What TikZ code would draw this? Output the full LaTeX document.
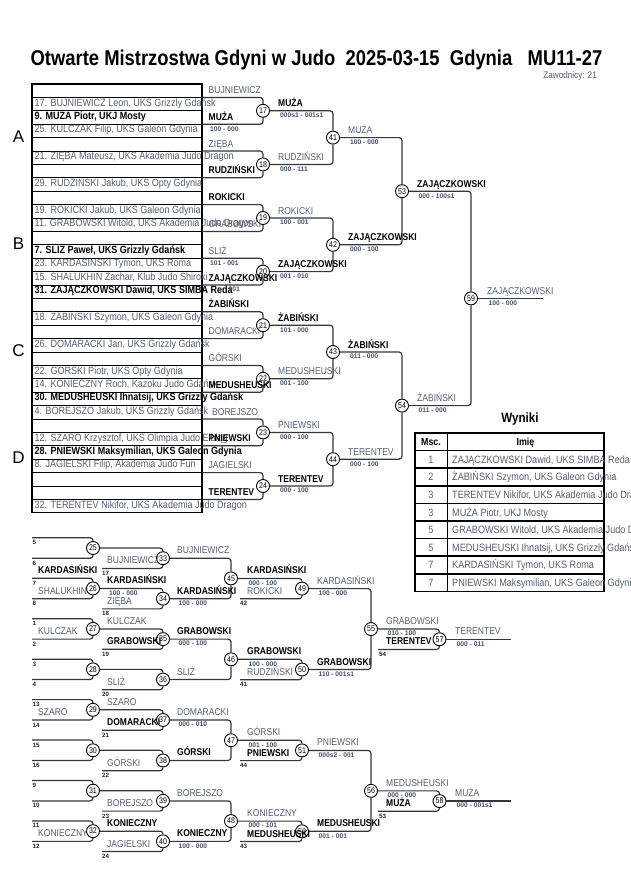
\documentclass[tikz,border=0pt]{standalone}
\usepackage{fontspec}
\setmainfont{Liberation Sans}[FakeStretch=0.86]
\newfontfamily\plainsf{Liberation Sans}
\definecolor{ngray}{RGB}{88,94,112}
\definecolor{scol}{RGB}{70,80,105}
\definecolor{lcol}{RGB}{55,55,55}
\tikzset{
  nm/.style={inner sep=0pt, anchor=base west, text=ngray, font=\fontsize{9.9}{11}\selectfont},
  nb/.style={inner sep=0pt, anchor=base west, text=black, font=\bfseries\fontsize{9.9}{11}\selectfont},
  sc/.style={inner sep=0pt, anchor=base west, text=scol, font=\plainsf\bfseries\fontsize{6.7}{7}\selectfont},
  sn/.style={inner sep=0pt, anchor=base west, text=black!85, font=\plainsf\bfseries\fontsize{6.2}{7}\selectfont},
  rg/.style={inner sep=0pt, anchor=base west, text=ngray, font=\fontsize{10.5}{11}\selectfont},
  rb/.style={inner sep=0pt, anchor=base west, text=black, font=\bfseries\fontsize{10.5}{11}\selectfont},
  wg/.style={inner sep=0pt, anchor=base west, text=ngray, font=\fontsize{10.6}{11}\selectfont},
  wn/.style={inner sep=0pt, anchor=base, text=ngray, font=\fontsize{10.6}{11}\selectfont},
  wh/.style={inner sep=0pt, anchor=base, text=black, font=\bfseries\fontsize{10.3}{11}\selectfont},
  mc/.style={circle, draw=black, line width=0.9pt, fill=white, minimum size=13pt, inner sep=0pt, font=\fontsize{8.2}{8}\selectfont},
  br/.style={draw=lcol, line width=1.2pt, rounded corners=3pt},
  tl/.style={draw=black, line width=1pt},
  tb/.style={draw=black, line width=1.3pt},
  grp/.style={inner sep=0pt, font=\plainsf\fontsize{17}{18}\selectfont, text=black}
}
\newcommand\Lg[4]{\node[nm] (#1) at (#2,#3) {#4};}
\newcommand\Lb[4]{\node[nb] (#1) at (#2,#3) {#4};}
\newcommand\Ls[4]{\node[sc] (#1) at (#2,#3) {#4};}
\newcommand\Ln[4]{\node[sn] (#1) at (#2,#3) {#4};}
\begin{document}
\begin{tikzpicture}[x=1pt,y=-1pt]
\useasboundingbox[fill=white] (0,0) rectangle (630,891);

% title
\node[font=\bfseries\fontsize{21.4}{24}\selectfont, anchor=base, inner sep=0pt] (title) at (316.5,66) {Otwarte Mistrzostwa Gdyni w Judo\ \ 2025-03-15\ \ Gdynia\ \ \ MU11-27};
\node[anchor=base east, inner sep=0pt, text=ngray, font=\fontsize{9.5}{10}\selectfont] (zaw) at (597,78.5) {Zawodnicy: 21};

% group letters
\node[grp] (gA) at (18.5,136.5) {A};
\node[grp] (gB) at (18.5,243.5) {B};
\node[grp] (gC) at (18.5,350.5) {C};
\node[grp] (gD) at (18.5,457.7) {D};

% main table
\foreach \n in {1,...,31} \draw[tl] (32,{84+13.4*\n}) -- (202,{84+13.4*\n});
\draw[tb] (32,84) rectangle (202,512.8);

\node[rg] (r2) at (34.5,106.0) {17. BUJNIEWICZ Leon, UKS Grizzly Gdańsk};
\node[rb] (r3) at (34.5,119.4) {9. MUZA Piotr, UKJ Mosty};
\node[rg] (r4) at (34.5,132.8) {25. KULCZAK Filip, UKS Galeon Gdynia};
\node[rg] (r6) at (34.5,159.6) {21. ZIĘBA Mateusz, UKS Akademia Judo Dragon};
\node[rg] (r8) at (34.5,186.4) {29. RUDZINSKI Jakub, UKS Opty Gdynia};
\node[rg] (r10) at (34.5,213.2) {19. ROKICKI Jakub, UKS Galeon Gdynia};
\node[rg] (r11) at (34.5,226.6) {11. GRABOWSKI Witold, UKS Akademia Judo Dragon};
\node[rb] (r13) at (34.5,253.4) {7. SLIZ Paweł, UKS Grizzly Gdańsk};
\node[rg] (r14) at (34.5,266.8) {23. KARDASINSKI Tymon, UKS Roma};
\node[rg] (r15) at (34.5,280.2) {15. SHALUKHIN Zachar, Klub Judo Shiroki};
\node[rb] (r16) at (34.5,293.6) {31. ZAJĄCZKOWSKI Dawid, UKS SIMBA Reda};
\node[rg] (r18) at (34.5,320.4) {18. ŻABIŃSKI Szymon, UKS Galeon Gdynia};
\node[rg] (r20) at (34.5,347.2) {26. DOMARACKI Jan, UKS Grizzly Gdańsk};
\node[rg] (r22) at (34.5,374.0) {22. GÓRSKI Piotr, UKS Opty Gdynia};
\node[rg] (r23) at (34.5,387.4) {14. KONIECZNY Roch, Kazoku Judo Gdańsk};
\node[rb] (r24) at (34.5,400.8) {30. MEDUSHEUSKI Ihnatsij, UKS Grizzly Gdańsk};
\node[rg] (r25) at (34.5,414.2) {4. BOREJSZO Jakub, UKS Grizzly Gdańsk};
\node[rg] (r27) at (34.5,441.0) {12. SZARO Krzysztof, UKS Olimpia Judo Elbląg};
\node[rb] (r28) at (34.5,454.4) {28. PNIEWSKI Maksymilian, UKS Galeon Gdynia};
\node[rg] (r29) at (34.5,467.8) {8. JAGIELSKI Filip, Akademia Judo Fun};
\node[rg] (r32) at (34.5,508.0) {32. TERENTEV Nikifor, UKS Akademia Judo Dragon};

% main bracket circles
\node[mc] (m17) at (263,110.8) {17};
\node[mc] (m18) at (263,164.4) {18};
\node[mc] (m19) at (263,218.0) {19};
\node[mc] (m20) at (263,271.6) {20};
\node[mc] (m21) at (263,325.2) {21};
\node[mc] (m22) at (263,378.8) {22};
\node[mc] (m23) at (263,432.4) {23};
\node[mc] (m24) at (263,486.0) {24};
\node[mc] (m41) at (333,137.6) {41};
\node[mc] (m42) at (333,244.8) {42};
\node[mc] (m43) at (333,352.0) {43};
\node[mc] (m44) at (333,459.2) {44};
\node[mc] (m53) at (402,191.2) {53};
\node[mc] (m54) at (402,405.6) {54};
\node[mc] (m59) at (471,298.4) {59};

\coordinate (t17) at (202,97.4);  \coordinate (u17) at (202,124.2);
\coordinate (t18) at (202,151.0); \coordinate (u18) at (202,177.8);
\coordinate (t19) at (202,204.6); \coordinate (u19) at (202,231.4);
\coordinate (t20) at (202,258.2); \coordinate (u20) at (202,285.0);
\coordinate (t21) at (202,311.8); \coordinate (u21) at (202,338.6);
\coordinate (t22) at (202,365.4); \coordinate (u22) at (202,392.2);
\coordinate (t23) at (202,419.0); \coordinate (u23) at (202,445.8);
\coordinate (t24) at (202,472.6); \coordinate (u24) at (202,499.4);
\coordinate (e59) at (543,298.4);

\foreach \m in {17,...,24} {
  \draw[br] (t\m) -| (m\m.north);
  \draw[br] (u\m) -| (m\m.south);
}
\draw[br] (m17.east) -| (m41.north); \draw[br] (m18.east) -| (m41.south);
\draw[br] (m19.east) -| (m42.north); \draw[br] (m20.east) -| (m42.south);
\draw[br] (m21.east) -| (m43.north); \draw[br] (m22.east) -| (m43.south);
\draw[br] (m23.east) -| (m44.north); \draw[br] (m24.east) -| (m44.south);
\draw[br] (m41.east) -| (m53.north); \draw[br] (m42.east) -| (m53.south);
\draw[br] (m43.east) -| (m54.north); \draw[br] (m44.east) -| (m54.south);
\draw[br] (m53.east) -| (m59.north); \draw[br] (m54.east) -| (m59.south);
\draw[br] (m59.east) -- (e59);

% main bracket labels, round 1
\Lg{a17}{208.5}{93.4}{BUJNIEWICZ}   \Lb{b17}{208.5}{120.2}{MUŻA} \Ls{c17}{210}{131.0}{100 - 000}
\Lg{a18}{208.5}{147.0}{ZIĘBA}       \Lb{b18}{208.5}{173.8}{RUDZIŃSKI}
\Lb{a19}{208.5}{200.6}{ROKICKI}     \Lg{b19}{208.5}{227.4}{GRABOWSKI}
\Lg{a20}{208.5}{254.2}{SLIŻ}        \Ls{d20}{210}{265.0}{101 - 001}
\Lb{b20}{208.5}{281.0}{ZAJĄCZKOWSKI} \Ls{c20}{228.5}{291.8}{001}
\Lb{a21}{208.5}{307.8}{ŻABIŃSKI}    \Lg{b21}{208.5}{334.6}{DOMARACKI}
\Lg{a22}{208.5}{361.4}{GÓRSKI}      \Lb{b22}{208.5}{388.2}{MEDUSHEUSKI}
\Lg{a23}{212}{415.0}{BOREJSZO}      \Lb{b23}{208.5}{441.8}{PNIEWSKI}
\Lg{a24}{208.5}{468.6}{JAGIELSKI}   \Lb{b24}{208.5}{495.4}{TERENTEV}

% outputs round 1
\Lb{o17}{278}{106.8}{MUŻA}          \Ls{s17}{280}{117.6}{000s1 - 001s1}
\Lg{o18}{278}{160.4}{RUDZIŃSKI}     \Ls{s18}{280}{171.2}{000 - 111}
\Lg{o19}{278}{214.0}{ROKICKI}       \Ls{s19}{280}{224.8}{100 - 001}
\Lb{o20}{278}{267.6}{ZAJĄCZKOWSKI}  \Ls{s20}{280}{278.4}{001 - 010}
\Lb{o21}{278}{321.2}{ŻABIŃSKI}      \Ls{s21}{280}{332.0}{101 - 000}
\Lg{o22}{278}{374.8}{MEDUSHEUSKI}   \Ls{s22}{280}{385.6}{001 - 100}
\Lg{o23}{278}{428.4}{PNIEWSKI}      \Ls{s23}{280}{439.2}{000 - 100}
\Lb{o24}{278}{482.0}{TERENTEV}      \Ls{s24}{280}{492.8}{000 - 100}
% outputs round 2
\Lg{o41}{348}{133.6}{MUŻA}          \Ls{s41}{350}{144.4}{100 - 000}
\Lb{o42}{348}{240.8}{ZAJĄCZKOWSKI}  \Ls{s42}{350}{251.6}{000 - 100}
\Lb{o43}{348}{348.0}{ŻABIŃSKI}      \Ls{s43}{350}{358.8}{011 - 000}
\Lg{o44}{348}{455.2}{TERENTEV}      \Ls{s44}{350}{466.0}{000 - 100}
% outputs round 3 and final
\Lb{o53}{417}{187.2}{ZAJĄCZKOWSKI}  \Ls{s53}{418.5}{198.0}{000 - 100s1}
\Lg{o54}{417}{401.6}{ŻABIŃSKI}      \Ls{s54}{418.5}{412.4}{011 - 000}
\Lg{o59}{487}{294.4}{ZAJĄCZKOWSKI}  \Ls{s59}{488.5}{305.2}{100 - 000}

% results table
\node[inner sep=0pt, anchor=base, font=\bfseries\fontsize{13.5}{14}\selectfont] (wyn) at (520,422.6) {Wyniki};
\foreach \i in {1,...,8} \draw[draw=black, line width=1.5pt] (415,{433+17.6*\i}) -- (604,{433+17.6*\i});
\draw[draw=black, line width=1pt] (447,433) -- (447,591.4);
\draw[draw=black, line width=1.6pt] (415,433) rectangle (604,591.4);
\node[wh] (hm) at (431,445.6) {Msc.};
\node[wh] (hi) at (525.5,445.6) {Imię};
\node[wn] (n1) at (431,463.2) {1}; \node[wg] (w1) at (452,463.2) {ZAJĄCZKOWSKI Dawid, UKS SIMBA Reda};
\node[wn] (n2) at (431,480.8) {2}; \node[wg] (w2) at (452,480.8) {ŻABIŃSKI Szymon, UKS Galeon Gdynia};
\node[wn] (n3) at (431,498.4) {3}; \node[wg] (w3) at (452,498.4) {TERENTEV Nikifor, UKS Akademia Judo Dragon};
\node[wn] (n4) at (431,516.0) {3}; \node[wg] (w4) at (452,516.0) {MUŻA Piotr, UKJ Mosty};
\node[wn] (n5) at (431,533.6) {5}; \node[wg] (w5) at (452,533.6) {GRABOWSKI Witold, UKS Akademia Judo Dragon};
\node[wn] (n6) at (431,551.2) {5}; \node[wg] (w6) at (452,551.2) {MEDUSHEUSKI Ihnatsij, UKS Grizzly Gdańsk};
\node[wn] (n7) at (431,568.8) {7}; \node[wg] (w7) at (452,568.8) {KARDASIŃSKI Tymon, UKS Roma};
\node[wn] (n8) at (431,586.4) {7}; \node[wg] (w8) at (452,586.4) {PNIEWSKI Maksymilian, UKS Galeon Gdynia};

% repechage circles
\node[mc] (m25) at (93,548.0) {25};
\node[mc] (m26) at (93,588.45) {26};
\node[mc] (m27) at (93,628.9) {27};
\node[mc] (m28) at (93,669.35) {28};
\node[mc] (m29) at (93,709.8) {29};
\node[mc] (m30) at (93,750.25) {30};
\node[mc] (m31) at (93,790.7) {31};
\node[mc] (m32) at (93,831.15) {32};
\node[mc] (m33) at (163,558.2) {33};
\node[mc] (m34) at (163,598.65) {34};
\node[mc] (m35) at (163,639.1) {35};
\node[mc] (m36) at (163,679.55) {36};
\node[mc] (m37) at (163,720.0) {37};
\node[mc] (m38) at (163,760.45) {38};
\node[mc] (m39) at (163,800.9) {39};
\node[mc] (m40) at (163,841.35) {40};
\node[mc] (m45) at (231,578.4) {45};
\node[mc] (m46) at (231,659.3) {46};
\node[mc] (m47) at (231,740.2) {47};
\node[mc] (m48) at (231,821.1) {48};
\node[mc] (m49) at (302,588.6) {49};
\node[mc] (m50) at (302,669.5) {50};
\node[mc] (m51) at (302,750.4) {51};
\node[mc] (m52) at (302,831.3) {52};
\node[mc] (m55) at (371,629.05) {55};
\node[mc] (m56) at (371,790.85) {56};
\node[mc] (m57) at (439.5,639.25) {57};
\node[mc] (m58) at (439.5,801.05) {58};

\coordinate (p25) at (32,537.8);  \coordinate (q25) at (32,558.2);
\coordinate (p26) at (32,578.25); \coordinate (q26) at (32,598.65);
\coordinate (p27) at (32,618.7);  \coordinate (q27) at (32,639.1);
\coordinate (p28) at (32,659.15); \coordinate (q28) at (32,679.55);
\coordinate (p29) at (32,699.6);  \coordinate (q29) at (32,720.0);
\coordinate (p30) at (32,740.05); \coordinate (q30) at (32,760.45);
\coordinate (p31) at (32,780.5);  \coordinate (q31) at (32,800.9);
\coordinate (p32) at (32,820.95); \coordinate (q32) at (32,841.35);
\coordinate (s33) at (102,568.4);  \coordinate (s34) at (102,608.85);
\coordinate (s35) at (102,649.3);  \coordinate (s36) at (102,689.75);
\coordinate (s37) at (102,730.2);  \coordinate (s38) at (102,770.65);
\coordinate (s39) at (102,811.1);  \coordinate (s40) at (102,851.55);
\coordinate (v49) at (240,598.8); \coordinate (v50) at (240,679.7);
\coordinate (v51) at (240,760.6); \coordinate (v52) at (240,841.5);
\coordinate (w57) at (378,649.45); \coordinate (w58) at (378,811.25);
\coordinate (e57) at (511,639.25); \coordinate (e58) at (511,801.05);

\foreach \m in {25,...,32} {
  \draw[br] (p\m) -| (m\m.north);
  \draw[br] (q\m) -| (m\m.south);
}
\foreach \a/\b in {25/33,26/34,27/35,28/36,29/37,30/38,31/39,32/40} {
  \draw[br] (m\a.east) -| (m\b.north);
  \draw[br] (s\b) -| (m\b.south);
}
\draw[br] (m33.east) -| (m45.north); \draw[br] (m34.east) -| (m45.south);
\draw[br] (m35.east) -| (m46.north); \draw[br] (m36.east) -| (m46.south);
\draw[br] (m37.east) -| (m47.north); \draw[br] (m38.east) -| (m47.south);
\draw[br] (m39.east) -| (m48.north); \draw[br] (m40.east) -| (m48.south);
\foreach \a/\b in {45/49,46/50,47/51,48/52} {
  \draw[br] (m\a.east) -| (m\b.north);
  \draw[br] (v\b) -| (m\b.south);
}
\draw[br] (m49.east) -| (m55.north); \draw[br] (m50.east) -| (m55.south);
\draw[br] (m51.east) -| (m56.north); \draw[br] (m52.east) -| (m56.south);
\draw[br] (m55.east) -| (m57.north); \draw[br] (w57) -| (m57.south);
\draw[br] (m56.east) -| (m58.north); \draw[br] (w58) -| (m58.south);
\draw[br] (m57.east) -- (e57);
\draw[br] (m58.east) -- (e58);

% seed numbers
\Ln{k5}{32.5}{544.8}{5}   \Ln{k6}{32.5}{565.2}{6}
\Ln{k7}{32.5}{585.25}{7}  \Ln{k8}{32.5}{605.65}{8}
\Ln{k1}{32.5}{625.7}{1}   \Ln{k2}{32.5}{646.1}{2}
\Ln{k3}{32.5}{666.15}{3}  \Ln{k4}{32.5}{686.55}{4}
\Ln{k13}{32.5}{706.6}{13} \Ln{k14}{32.5}{727.0}{14}
\Ln{k15}{32.5}{747.05}{15} \Ln{k16}{32.5}{767.45}{16}
\Ln{k9}{32.5}{787.5}{9}   \Ln{k10}{32.5}{807.9}{10}
\Ln{k11}{32.5}{827.95}{11} \Ln{k12}{32.5}{848.35}{12}
\Ln{k17}{102}{575.4}{17}  \Ln{k18}{102}{615.85}{18}
\Ln{k19}{102}{656.3}{19}  \Ln{k20}{102}{696.75}{20}
\Ln{k21}{102}{737.2}{21}  \Ln{k22}{102}{777.65}{22}
\Ln{k23}{102}{818.1}{23}  \Ln{k24}{102}{858.55}{24}
\Ln{k42}{240}{605.8}{42}  \Ln{k41}{240}{686.7}{41}
\Ln{k44}{240}{767.6}{44}  \Ln{k43}{240}{848.5}{43}
\Ln{k54}{379}{656.45}{54} \Ln{k53}{379}{818.25}{53}

% repechage labels level 1
\Lb{x26a}{38}{573.75}{KARDASIŃSKI} \Lg{x26b}{38}{594.15}{SHALUKHIN}
\Lg{x27b}{38}{634.6}{KULCZAK}
\Lg{x29b}{38}{715.5}{SZARO}
\Lg{x32b}{38}{836.85}{KONIECZNY}
% level 2
\Lg{x33b}{107}{563.9}{BUJNIEWICZ}
\Lb{x34a}{107}{583.95}{KARDASIŃSKI} \Ls{y34a}{109}{595.25}{100 - 000} \Lg{x34b}{107}{604.35}{ZIĘBA}
\Lg{x35a}{107}{624.4}{KULCZAK} \Lb{x35b}{107}{644.8}{GRABOWSKI}
\Lg{x36b}{107}{685.25}{SLIŻ}
\Lg{x37a}{107}{705.3}{SZARO} \Lb{x37b}{107}{725.7}{DOMARACKI}
\Lg{x38b}{107}{766.15}{GÓRSKI}
\Lg{x39b}{107}{806.6}{BOREJSZO}
\Lb{x40a}{107}{826.65}{KONIECZNY} \Lg{x40b}{107}{847.05}{JAGIELSKI}
% level 3
\Lg{x45a}{177}{553.7}{BUJNIEWICZ} \Lb{x45b}{177}{594.15}{KARDASIŃSKI} \Ls{y45b}{178.5}{605.45}{100 - 000}
\Lb{x46a}{177}{634.6}{GRABOWSKI} \Ls{y46a}{178.5}{645.9}{000 - 100} \Lg{x46b}{177}{675.05}{SLIŻ}
\Lg{x47a}{177}{715.5}{DOMARACKI} \Ls{y47a}{178.5}{726.8}{000 - 010} \Lb{x47b}{177}{755.95}{GÓRSKI}
\Lg{x48a}{177}{796.4}{BOREJSZO} \Lb{x48b}{177}{836.85}{KONIECZNY} \Ls{y48b}{178.5}{848.15}{100 - 000}
% level 4
\Lb{x49a}{247}{573.9}{KARDASIŃSKI} \Ls{y49a}{248.5}{585.2}{000 - 100} \Lg{x49b}{247}{594.3}{ROKICKI}
\Lb{x50a}{247}{654.8}{GRABOWSKI} \Ls{y50a}{248.5}{666.1}{100 - 000} \Lg{x50b}{247}{675.2}{RUDZIŃSKI}
\Lg{x51a}{247}{735.7}{GÓRSKI} \Ls{y51a}{248.5}{747.0}{001 - 100} \Lb{x51b}{247}{756.1}{PNIEWSKI}
\Lg{x52a}{247}{816.6}{KONIECZNY} \Ls{y52a}{248.5}{827.9}{000 - 101} \Lb{x52b}{247}{837.0}{MEDUSHEUSKI}
% level 5
\Lg{x55a}{317}{584.1}{KARDASIŃSKI} \Ls{y55a}{318.5}{595.4}{100 - 000}
\Lb{x55b}{317}{665.0}{GRABOWSKI} \Ls{y55b}{318.5}{676.3}{110 - 001s1}
\Lg{x56a}{317}{745.9}{PNIEWSKI} \Ls{y56a}{318.5}{757.2}{000s2 - 001}
\Lb{x56b}{317}{826.8}{MEDUSHEUSKI} \Ls{y56b}{318.5}{838.1}{001 - 001}
% level 6
\Lg{x57a}{386}{624.55}{GRABOWSKI} \Ls{y57a}{387.5}{635.85}{010 - 100} \Lb{x57b}{386}{644.95}{TERENTEV}
\Lg{x58a}{386}{786.35}{MEDUSHEUSKI} \Ls{y58a}{387.5}{797.65}{000 - 000} \Lb{x58b}{386}{806.75}{MUŻA}
% outputs
\Lg{x57o}{455}{634.75}{TERENTEV} \Ls{y57o}{456.5}{646.05}{000 - 011}
\Lg{x58o}{455}{796.55}{MUŻA} \Ls{y58o}{456.5}{807.85}{000 - 001s1}
\end{tikzpicture}
\end{document}
